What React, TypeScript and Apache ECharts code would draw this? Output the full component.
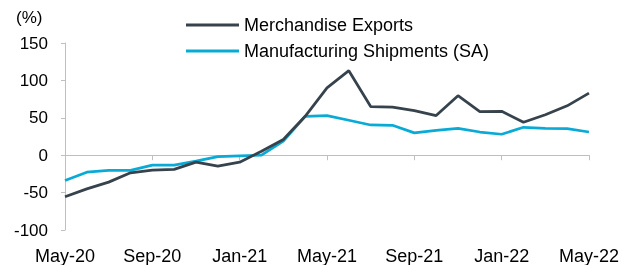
import React, { useEffect, useRef } from "react";
import * as echarts from "echarts";

const months = [
  "May-20", "Jun-20", "Jul-20", "Aug-20", "Sep-20", "Oct-20", "Nov-20", "Dec-20",
  "Jan-21", "Feb-21", "Mar-21", "Apr-21", "May-21", "Jun-21", "Jul-21", "Aug-21",
  "Sep-21", "Oct-21", "Nov-21", "Dec-21", "Jan-22", "Feb-22", "Mar-22", "Apr-22", "May-22",
];

const merchandiseExports = [
  -55.5, -45, -36, -23.5, -20, -19, -9.3, -14.7,
  -9.3, 5.3, 21, 52, 90, 113, 65, 64.4,
  59.6, 53, 79.6, 58.2, 58.7, 44, 54, 66, 83,
];

const manufacturingShipments = [
  -33.8, -22.7, -20.4, -20.4, -13.3, -13.3, -8, -1.8,
  -0.9, 0, 18.7, 52, 53, 46.7, 40.4, 40,
  29.8, 33.3, 36, 31, 28, 37.3, 36, 35.6, 31,
];

const seriesNames = ["Merchandise Exports", "Manufacturing Shipments (SA)"];
const yTicks = { min: -100, max: 150, interval: 50 };

const FONT = "Arial, 'Liberation Sans', sans-serif";
const AXIS_COLOR = "#bfbfbf";

export default function App() {
  const ref = useRef<HTMLDivElement>(null);

  useEffect(() => {
    if (!ref.current) return;
    const chart = echarts.init(ref.current, undefined, { renderer: "svg" });
    chart.setOption({
      animation: false,
      textStyle: { fontFamily: FONT },
      grid: { left: 65, right: 32, top: 43, bottom: 34, containLabel: false },
      graphic: [
        {
          type: "text",
          left: 16,
          top: 9,
          style: { text: "(%)", fontSize: 17, fontFamily: FONT, fill: "#000" },
        },
      ],
      legend: {
        orient: "vertical",
        left: 181,
        top: 10,
        itemWidth: 53,
        itemHeight: 3,
        itemGap: 6,
        icon: "rect",
        textStyle: { fontSize: 18, fontFamily: FONT, color: "#000", lineHeight: 20 },
        data: seriesNames,
      },
      xAxis: [
        {
          type: "category",
          data: months,
          boundaryGap: false,
          axisLine: { onZero: true, lineStyle: { color: AXIS_COLOR, width: 1 } },
          axisTick: { show: true, interval: 3, length: 5, lineStyle: { color: AXIS_COLOR } },
          axisLabel: { show: false },
          splitLine: { show: false },
        },
        {
          type: "category",
          data: months,
          boundaryGap: false,
          position: "bottom",
          axisLine: { show: false, onZero: false },
          axisTick: { show: false },
          axisLabel: {
            show: true,
            interval: 3,
            fontSize: 18,
            fontFamily: FONT,
            color: "#000",
            margin: 17,
          },
          splitLine: { show: false },
        },
      ],
      yAxis: {
        type: "value",
        min: yTicks.min,
        max: yTicks.max,
        interval: yTicks.interval,
        axisLine: { show: true, lineStyle: { color: AXIS_COLOR, width: 1 } },
        axisTick: { show: true, length: 4, lineStyle: { color: AXIS_COLOR } },
        axisLabel: { fontSize: 17, fontFamily: FONT, color: "#000", margin: 17 },
        splitLine: { show: false },
      },
      series: [
        {
          name: seriesNames[0],
          type: "line",
          xAxisIndex: 0,
          data: merchandiseExports,
          symbol: "none",
          lineStyle: { color: "#36424c", width: 2.75 },
          itemStyle: { color: "#36424c" },
          z: 3,
        },
        {
          name: seriesNames[1],
          type: "line",
          xAxisIndex: 0,
          data: manufacturingShipments,
          symbol: "none",
          lineStyle: { color: "#0aaad6", width: 2.75 },
          itemStyle: { color: "#0aaad6" },
          z: 2,
        },
      ],
    });
    return () => chart.dispose();
  }, []);

  return (
    <div
      ref={ref}
      style={{ position: "fixed", left: 0, top: 0, width: 622, height: 265 }}
    />
  );
}
